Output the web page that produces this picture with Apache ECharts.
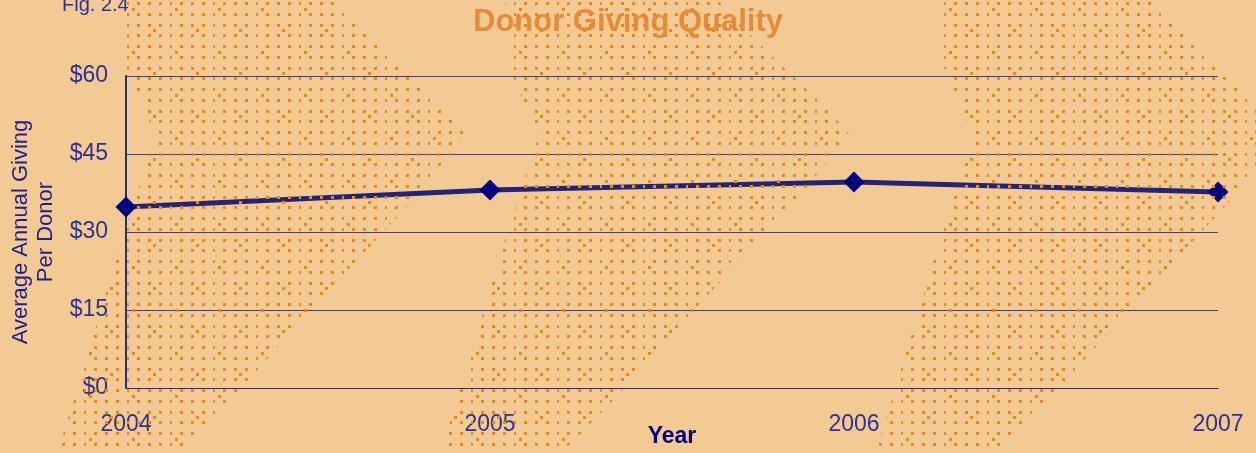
<!DOCTYPE html>
<html>
<head>
<meta charset="utf-8">
<title>Donor Giving Quality</title>
<script src="https://cdn.jsdelivr.net/npm/echarts@6/dist/echarts.min.js"></script>
<style>
  html, body { margin: 0; padding: 0; background: #F3CA94; }
  #chart { width: 1256px; height: 453px; }
</style>
</head>
<body>
<div id="chart"></div>
<script>
// chart data
var years = ['2004', '2005', '2006', '2007'];
var avgGift = [34.8, 38.1, 39.6, 37.7];
var yTicks = [0, 15, 30, 45, 60];

var navy = '#2E3192';
var font = 'Arial, "Liberation Sans", sans-serif';

// orange dotted tile used for the chevron decoration
function dotTile() {
  var c = document.createElement('canvas');
  c.width = 43; c.height = 43;
  var ctx = c.getContext('2d');
  ctx.fillStyle = '#E8891E';
  var step = 43 / 4;
  for (var i = 0; i < 4; i++) {
    for (var j = 0; j < 4; j++) {
      var x = Math.round((8.3 + i * step) % 43);
      var y = Math.round((34.3 + j * step) % 43);
      ctx.fillRect(x, y, 3, 3);
    }
  }
  ctx.fillRect(24, 29, 3, 3);
  ctx.fillRect(3, 8, 3, 3);
  return c;
}

// one chevron outline, repeated across the picture
var chevron = [[122,-5],[330,-5],[362,30],[400,67],[440,105],[467,135],[413,200],[320,300],[230,400],[172,460],
  [55,460],[74,400],[104,300],[124,233],[143,175],[156,135],[140,100],[126,67]];
var chevronShift = [0, 383, 818];

var tile = dotTile();
var deco = chevronShift.map(function (dx) {
  return {
    type: 'polygon',
    silent: true,
    z: 100,
    shape: { points: chevron.map(function (p) { return [p[0] + dx, p[1]]; }) },
    style: { fill: { image: tile, repeat: 'repeat' } }
  };
});

var chart = echarts.init(document.getElementById('chart'), null, { renderer: 'canvas' });
var option = {
  backgroundColor: '#F3CA94',
  animation: false,
  title: [{
    text: 'Donor Giving Quality',
    left: 'center',
    top: 2,
    textStyle: { color: '#E38C3B', fontSize: 31, fontWeight: 'bold', fontFamily: font }
  }, {
    text: 'Fig. 2.4',
    left: 57,
    top: -10,
    textStyle: { color: navy, fontSize: 20, fontWeight: 'normal', fontFamily: font }
  }],
  grid: { left: 126, right: 38, top: 76, bottom: 65, containLabel: false, outerBoundsMode: 'none' },
  xAxis: {
    type: 'category',
    data: years,
    boundaryGap: false,
    name: 'Year',
    nameLocation: 'middle',
    nameGap: 37,
    nameMoveOverlap: false,
    nameTextStyle: { color: '#000080', fontSize: 23, fontWeight: 'bold', fontFamily: font },
    axisLine: { show: true, lineStyle: { color: '#2A2AA0', width: 1 } },
    axisTick: { show: false },
    axisLabel: { color: navy, fontSize: 23, fontFamily: font, margin: 25 }
  },
  yAxis: {
    type: 'value',
    min: yTicks[0],
    max: yTicks[yTicks.length - 1],
    interval: 15,
    name: 'Average Annual Giving\nPer Donor',
    nameLocation: 'middle',
    nameGap: 68,
    nameMoveOverlap: false,
    nameTextStyle: { color: '#1F1F8C', fontSize: 22, fontFamily: font, lineHeight: 25 },
    axisLine: { show: true, lineStyle: { color: '#2A2E80', width: 2 } },
    axisTick: { show: false },
    axisLabel: {
      color: navy, fontSize: 23, fontFamily: font, margin: 18,
      formatter: function (v) { return '$' + v; }
    },
    splitLine: { show: true, lineStyle: { color: '#3D3D9E', width: 1 } }
  },
  series: [{
    type: 'line',
    data: avgGift,
    symbol: 'diamond',
    symbolSize: 21,
    lineStyle: { color: '#22247A', width: 5 },
    itemStyle: { color: '#000080' },
    z: 3
  }],
  graphic: { elements: deco }
};
chart.setOption(option);
</script>
</body>
</html>
